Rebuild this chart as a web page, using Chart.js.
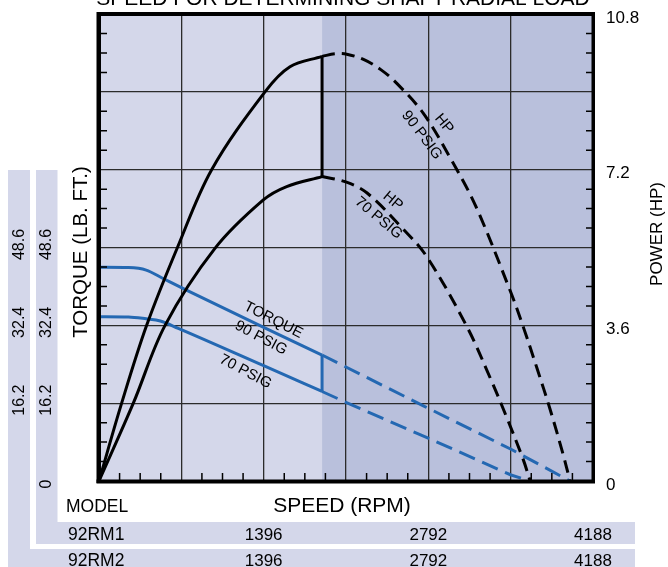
<!DOCTYPE html>
<html>
<head>
<meta charset="utf-8">
<title>Speed for determining shaft radial load</title>
<script src="https://cdn.jsdelivr.net/npm/chart.js@4"></script>
<style>
  html, body { margin:0; padding:0; background:#fff; }
  #wrap { position:relative; width:668px; height:567px; overflow:hidden; }
  canvas { position:absolute; left:0; top:0; }
</style>
</head>
<body>
<div id="wrap"><canvas id="chart" width="668" height="567"></canvas></div>
<script>
// speed in RPM, torque in LB.FT., power in HP
const cutoffSpeed = 1891;          // where the solid curves stop

const hp90Speed  = [0, 192, 404, 665, 955, 1407, 1619, 1891];
const hp90Power  = [0, 1.8, 3.6, 5.4, 7.2, 9.0, 9.58, 9.82];
const hp90xSpeed = [1891, 2000, 2100, 2242, 2386, 2527, 2750, 2978, 3190, 3486, 3596, 3714, 3824, 3934, 3993];
const hp90xPower = [9.82, 9.88, 9.87, 9.75, 9.52, 9.19, 8.50, 7.47, 6.38, 4.40, 3.57, 2.60, 1.66, 0.62, 0];

const hp70Speed  = [0, 291, 560, 983, 1393, 1591, 1891];
const hp70Power  = [0, 1.8, 3.6, 5.38, 6.50, 6.81, 7.04];
const hp70xSpeed = [1891, 2098, 2273, 2581, 2781, 3119, 3317, 3458, 3596, 3655];
const hp70xPower = [7.04, 6.91, 6.66, 5.82, 5.18, 3.57, 2.38, 1.46, 0.50, 0];

const tq90Speed  = [0, 250, 400, 539, 750, 1396, 1891];
const tq90Torque = [44.5, 44.42, 43.9, 42.2, 39.63, 31.97, 26.22];
const tq90xSpeed  = [1891, 2750, 3493, 3993];
const tq90xTorque = [26.22, 15.64, 6.61, 0];

const tq70Speed  = [0, 250, 400, 520, 672, 1396, 1891];
const tq70Torque = [34.21, 34.15, 33.75, 33.3, 31.77, 23.99, 18.63];
const tq70xSpeed  = [1891, 2098, 2781, 3493, 3655];
const tq70xTorque = [18.63, 16.33, 9.03, 1.25, 0];

// axes / tick labels
const speedGrid   = 698;
const speedTicks  = [1396, 2792, 4188];
const torqueGrid  = 16.2;
const torqueTicks = [16.2, 32.4, 48.6];
const powerTicks  = [0, 3.6, 7.2, 10.8];
const models      = ['92RM1', '92RM2'];

const LIGHT = '#d4d7ea', DARK = '#b9c0dc', BLUE = '#2468b2', INK = '#000';
const FONT = '"Liberation Sans", Arial, Helvetica, sans-serif';

const pts = (xs, ys) => xs.map((x, i) => ({x: x, y: ys[i]}));
function line(xs, ys, axis, color, dash, curve) {
  return {
    data: pts(xs, ys), yAxisID: axis, borderColor: color, borderWidth: 3,
    borderDash: dash || [], pointRadius: 0, fill: false,
    tension: curve === 'smooth' ? 0.35 : 0,
    cubicInterpolationMode: curve === 'mono' ? 'monotone' : 'default',
    borderCapStyle: 'butt'
  };
}

// the two vertical cut-off strokes join the ends of the solid curves
const hpCut = line([cutoffSpeed, cutoffSpeed], [hp90Power[hp90Power.length - 1], hp70Power[hp70Power.length - 1]], 'y2', INK);
const tqCut = line([cutoffSpeed, cutoffSpeed], [tq90Torque[tq90Torque.length - 1], tq70Torque[tq70Torque.length - 1]], 'y', BLUE);

const curveLabels = [
  {lines: 'HP',      x: 2925, y: 8.26,  axis: 'y2', angle: 50},
  {lines: '90 PSIG', x: 2736, y: 8.00,  axis: 'y2', angle: 53},
  {lines: 'HP',      x: 2492, y: 6.475, axis: 'y2', angle: 40},
  {lines: '70 PSIG', x: 2370, y: 6.08,  axis: 'y2', angle: 40},
  {lines: 'TORQUE',  x: 1478, y: 33.5,  axis: 'y',  angle: 27},
  {lines: '90 PSIG', x: 1373, y: 29.76, axis: 'y',  angle: 28},
  {lines: '70 PSIG', x: 1242, y: 22.75, axis: 'y',  angle: 28}
];

function text(ctx, str, x, y, size, align, angle, baseline) {
  ctx.save();
  ctx.translate(x, y);
  if (angle) ctx.rotate(angle * Math.PI / 180);
  ctx.font = size + 'px ' + FONT;
  ctx.fillStyle = INK;
  ctx.textAlign = align || 'center';
  ctx.textBaseline = baseline || 'middle';
  ctx.fillText(str, 0, 0);
  ctx.restore();
}

const sheet = {
  id: 'sheet',
  beforeDraw(chart) {
    const {ctx, chartArea: a, scales} = chart;
    ctx.save();
    ctx.fillStyle = '#fff';
    ctx.fillRect(0, 0, chart.width, chart.height);
    // model table / torque scale strips
    ctx.fillStyle = LIGHT;
    ctx.fillRect(8, 170, 22, 397);
    ctx.fillRect(8, 549, 627, 18);
    ctx.fillRect(36, 170, 21.5, 374);
    ctx.fillRect(36, 522, 599, 22);
    // plot background, darker beyond the cut-off
    const cx = scales.x.getPixelForValue(cutoffSpeed);
    ctx.fillRect(a.left, a.top, cx - a.left, a.bottom - a.top);
    ctx.fillStyle = DARK;
    ctx.fillRect(cx, a.top, a.right - cx, a.bottom - a.top);
    ctx.restore();
  },
  afterDatasetsDraw(chart) {
    const {ctx, chartArea: a, scales} = chart;
    ctx.save();
    // minor ticks
    ctx.strokeStyle = INK;
    ctx.lineWidth = 1.5;
    ctx.beginPath();
    for (let k = 1; k < 24; k++) {
      if (k % 4 === 0) continue;
      const y = scales.y.getPixelForValue(k * torqueGrid / 4);
      ctx.moveTo(a.left, y); ctx.lineTo(a.left + 8, y);
      ctx.moveTo(a.right - 7, y); ctx.lineTo(a.right, y);
      const x = scales.x.getPixelForValue(k * speedGrid / 4);
      ctx.moveTo(x, a.bottom); ctx.lineTo(x, a.bottom - 8);
    }
    ctx.stroke();
    // heavy frame
    ctx.fillStyle = INK;
    const w = a.right - a.left, h = a.bottom - a.top;
    ctx.fillRect(a.left - 2, a.top - 2, w + 3.5, 4);
    ctx.fillRect(a.left - 2.5, a.top - 2, 4.5, h + 4);
    ctx.fillRect(a.right - 1.5, a.top - 2, 3.5, h + 4);
    ctx.fillRect(a.left - 2.5, a.bottom - 1.5, w + 4.5, 4);
    // curve captions
    curveLabels.forEach(l => {
      text(ctx, l.lines, scales.x.getPixelForValue(l.x), scales[l.axis].getPixelForValue(l.y), 15, 'center', l.angle);
    });
    ctx.restore();
  },
  afterDraw(chart) {
    const {ctx, chartArea: a, scales} = chart;
    text(ctx, 'SPEED FOR DETERMINING SHAFT RADIAL LOAD', (a.left + a.right) / 2 - 3, 5, 21, 'center', 0, 'alphabetic');
    text(ctx, 'TORQUE (LB. FT.)', 81, 252, 20.5, 'center', -90);
    text(ctx, 'POWER (HP)', 657, 234, 17, 'center', -90);
    text(ctx, 'SPEED (RPM)', (a.left + a.right) / 2 - 4, 512, 21, 'center', 0, 'alphabetic');
    text(ctx, 'MODEL', 66, 511.5, 17.5, 'left', 0, 'alphabetic');
    powerTicks.forEach(v => text(ctx, String(v), 606, scales.y2.getPixelForValue(v) + 4, 17, 'left'));
    torqueTicks.forEach(v => {
      const y = scales.y.getPixelForValue(v) - 3;
      text(ctx, String(v), 20, y, 16, 'center', -90);
      text(ctx, String(v), 47, y, 16, 'center', -90);
    });
    text(ctx, '0', 47, scales.y.getPixelForValue(0) + 3, 16, 'center', -90);
    const rowBase = [540, 566];
    models.forEach((m, i) => {
      text(ctx, m, 68, rowBase[i], 17.5, 'left', 0, 'alphabetic');
      speedTicks.forEach(v => text(ctx, String(v), scales.x.getPixelForValue(v), rowBase[i], 17, 'center', 0, 'alphabetic'));
    });
  }
};

const gridOpts = {color: '#2b2b2b', lineWidth: 1.3, drawTicks: false};

new Chart(document.getElementById('chart'), {
  type: 'line',
  data: {
    datasets: [
      line(hp90Speed, hp90Power, 'y2', INK, null, 'smooth'),
      line(hp90xSpeed, hp90xPower, 'y2', INK, [13, 7], 'smooth'),
      line(hp70Speed, hp70Power, 'y2', INK, null, 'smooth'),
      line(hp70xSpeed, hp70xPower, 'y2', INK, [13, 7], 'smooth'),
      hpCut,
      line(tq90Speed, tq90Torque, 'y', BLUE, null, 'mono'),
      line(tq90xSpeed, tq90xTorque, 'y', BLUE, [17, 8]),
      line(tq70Speed, tq70Torque, 'y', BLUE, null, 'mono'),
      line(tq70xSpeed, tq70xTorque, 'y', BLUE, [17, 8]),
      tqCut
    ]
  },
  options: {
    responsive: false,
    animation: false,
    devicePixelRatio: 1,
    layout: {padding: {left: 99, right: 75, top: 14, bottom: 86}},
    plugins: {legend: {display: false}, tooltip: {enabled: false}},
    scales: {
      x: {type: 'linear', min: 0, max: speedTicks[speedTicks.length - 1],
          ticks: {display: false, stepSize: speedGrid}, grid: gridOpts, border: {display: false}},
      y: {type: 'linear', min: 0, max: torqueGrid * 6,
          ticks: {display: false, stepSize: torqueGrid}, grid: gridOpts, border: {display: false}},
      y2: {type: 'linear', position: 'right', min: 0, max: powerTicks[powerTicks.length - 1], display: false}
    }
  },
  plugins: [sheet]
});
</script>
</body>
</html>
